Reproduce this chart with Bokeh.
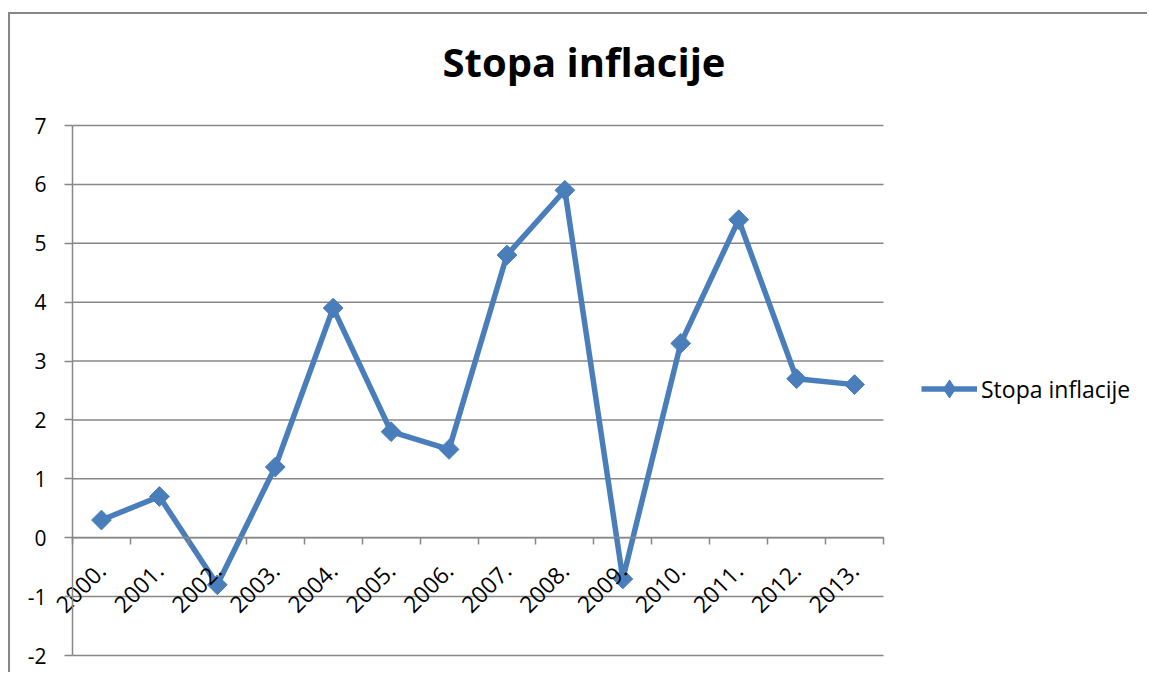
from math import pi
from bokeh.plotting import figure
from bokeh.models import Range1d, FixedTicker, Legend, LegendItem, Label
from bokeh.embed import file_html
from bokeh.resources import INLINE

# ---- data ----
years = ["2000.", "2001.", "2002.", "2003.", "2004.", "2005.", "2006.",
         "2007.", "2008.", "2009.", "2010.", "2011.", "2012.", "2013."]
inflation = [0.3, 0.7, -0.8, 1.2, 3.9, 1.8, 1.5, 4.8, 5.9, -0.7, 3.3, 5.4, 2.7, 2.6]
y_ticks = [-2, -1, 0, 1, 2, 3, 4, 5, 6, 7]
series_name = "Stopa inflacije"
title_text = "Stopa inflacije"

# category positions (centres) and boundaries
n = len(years)
xc = [i + 0.5 for i in range(n)]
xb = [float(i) for i in range(n + 1)]

FONT = "Open Sans"
BLUE = "#4A7EBB"
GRID = "#878787"

# ---- layout (pixels) ----
W, H = 1139, 660             # canvas size
AX_LEFT = 62                 # value axis distance from canvas left
AX_TOP = 111                 # top grid line distance from canvas top
PLOT_W, PLOT_H = 811, 530    # size of the category/value area
ux = PLOT_W / n
uy = PLOT_H / (max(y_ticks) - min(y_ticks))
x_start = -AX_LEFT / ux
x_end = x_start + W / ux
y_end = max(y_ticks) + AX_TOP / uy
y_start = y_end - H / uy

p = figure(width=W, height=H, output_backend="svg", toolbar_location=None,
           x_range=Range1d(x_start, x_end), y_range=Range1d(y_start, y_end),
           min_border_left=0, min_border_right=0, min_border_top=0,
           min_border_bottom=0,
           margin=(12, 0, 0, 8),
           styles={"border-left": "2px solid #878787", "border-top": "2px solid #878787"})

p.outline_line_color = None
p.background_fill_color = "white"
p.border_fill_color = "white"

# chart title (centred over the chart area)
title = Label(x=W / 2 + 4, y=H - 47, x_units="screen", y_units="screen",
              text=title_text, text_font=FONT, text_font_style="bold",
              text_font_size="40px", text_color="black",
              text_align="center", text_baseline="alphabetic")
p.add_layout(title)

# y axis at x = 0
yax = p.yaxis[0]
yax.fixed_location = 0
yax.ticker = FixedTicker(ticks=y_ticks)
yax.bounds = (min(y_ticks), max(y_ticks))
yax.major_label_overrides = {t: str(t) for t in y_ticks}
yax.axis_line_color = GRID
yax.axis_line_width = 1.5
yax.major_tick_line_color = GRID
yax.major_tick_line_width = 1.5
yax.major_tick_out = 8
yax.major_tick_in = 0
yax.minor_tick_line_color = None
yax.major_label_text_font = FONT
yax.major_label_text_font_size = "21px"
yax.major_label_text_color = "black"
yax.major_label_standoff = 18

# x axis at y = 0
xax = p.xaxis[0]
xax.fixed_location = 0
xax.bounds = (0, n)
xax.ticker = FixedTicker(ticks=xc, minor_ticks=xb)
xax.major_label_overrides = {x: y for x, y in zip(xc, years)}
xax.major_label_orientation = pi / 4
xax.axis_line_color = GRID
xax.axis_line_width = 1.5
xax.major_tick_line_color = None
xax.major_tick_out = 0
xax.major_tick_in = 0
xax.minor_tick_line_color = GRID
xax.minor_tick_line_width = 1.5
xax.minor_tick_out = 7
xax.minor_tick_in = 0
xax.major_label_text_font = FONT
xax.major_label_text_font_size = "23px"
xax.major_label_text_color = "black"
xax.major_label_standoff = 22

# horizontal grid lines, limited to the category area
p.xgrid.grid_line_color = None
p.ygrid.grid_line_color = None
p.segment(x0=[0] * len(y_ticks), x1=[n] * len(y_ticks), y0=y_ticks, y1=y_ticks,
          line_color=GRID, line_width=1.5)

# series
ln = p.line(xc, inflation, line_color=BLUE, line_width=5.5, line_join="round")
mk = p.scatter(xc, inflation, marker="square", angle=pi / 4, size=14,
               fill_color=BLUE, line_color=BLUE)
# legend symbol (upright diamond), hidden in the plot itself
leg_mk = p.scatter(xc, inflation, marker="diamond", fill_color=BLUE,
                   line_color=BLUE, visible=False)

legend = Legend(items=[LegendItem(label=series_name, renderers=[ln, leg_mk])],
                location=(911, 263), orientation="vertical")
legend.border_line_color = None
legend.background_fill_alpha = 0
legend.inactive_fill_alpha = 0
legend.margin = 0
legend.padding = 10
legend.glyph_width = 56
legend.glyph_height = 45
legend.label_standoff = 4
legend.label_text_font = FONT
legend.label_text_font_size = "23px"
legend.label_text_color = "black"
p.add_layout(legend)

open("out.html", "w").write(file_html(p, INLINE))
